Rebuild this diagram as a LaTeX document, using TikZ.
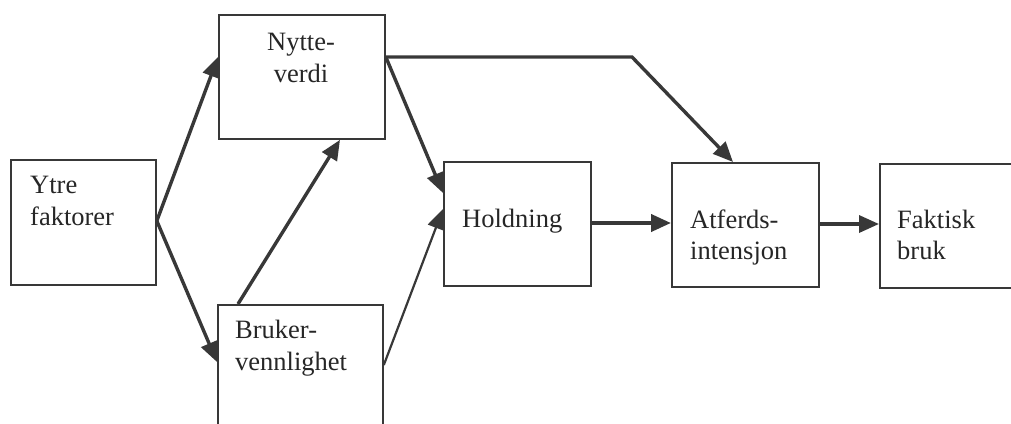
\documentclass[tikz,border=0pt]{standalone}
\usepackage{fontspec}
\setmainfont{Liberation Serif}
\usetikzlibrary{arrows.meta}
\definecolor{linec}{HTML}{383838}
\definecolor{textc}{HTML}{262626}
\begin{document}
\begin{tikzpicture}[x=1pt,y=-1pt,
  box/.style={draw=linec, line width=1.8pt, inner sep=0pt, anchor=north west},
  lbl/.style={inner sep=0pt, text=textc, font=\fontsize{26.5}{31}\selectfont},
  conn/.style={draw=linec, line width=3.4pt, -{Triangle[length=20pt,width=17pt]}},
  thin conn/.style={conn, line width=2.2pt}]
\useasboundingbox (0,0) rectangle (1011,423);
% boxes
\node[box, minimum width=145pt, minimum height=125pt] (ytre) at (10,159) {};
\node[box, minimum width=166pt, minimum height=124pt] (nytte) at (218,14) {};
\node[box, minimum width=165pt, minimum height=135pt] (bruker) at (217,304) {};
\node[box, minimum width=147pt, minimum height=124pt] (hold) at (443,161) {};
\node[box, minimum width=147pt, minimum height=124pt] (atf) at (671,162) {};
\node[box, minimum width=145pt, minimum height=124pt] (fakt) at (879,163) {};
% labels
\node[lbl, anchor=base west] (ytreA) at (30,193) {Ytre};
\node[lbl, anchor=base west] (ytreB) at (30,225) {faktorer};
\node[lbl, anchor=base] (nytA) at (301,50) {Nytte-};
\node[lbl, anchor=base] (nytB) at (301,82) {verdi};
\node[lbl, anchor=base west] (brA) at (235,338) {Bruker-};
\node[lbl, anchor=base west] (brB) at (235,370) {vennlighet};
\node[lbl, anchor=base west] (holA) at (462,227) {Holdning};
\node[lbl, anchor=base west] (atfA) at (690,228) {Atferds-};
\node[lbl, anchor=base west] (atfB) at (690,259) {intensjon};
\node[lbl, anchor=base west] (faA) at (897,228) {Faktisk};
\node[lbl, anchor=base west] (faB) at (897,259) {bruk};
% connector points
\coordinate (ytreOut) at ([yshift=1.5pt]ytre.east);
\coordinate (nytIn) at ([yshift=-43pt]nytte.north west);
\coordinate (nytOut) at ([yshift=-43pt]nytte.north east);
\coordinate (nytBot) at ([xshift=122pt]nytte.south west);
\coordinate (brIn) at ([yshift=-58pt]bruker.north west);
\coordinate (brTop) at ([xshift=21pt]bruker.north west);
\coordinate (brOut) at ([yshift=-61pt]bruker.north east);
\coordinate (holIn1) at ([yshift=-32pt]hold.north west);
\coordinate (holIn2) at ([yshift=-48pt]hold.north west);
\coordinate (holOut) at ([yshift=-62pt]hold.north east);
\coordinate (atfIn) at ([yshift=-61pt]atf.north west);
\coordinate (atfTop) at ([xshift=62pt]atf.north west);
\coordinate (atfOut) at ([yshift=-62pt]atf.north east);
\coordinate (faIn) at ([yshift=-61pt]fakt.north west);
\coordinate (bend) at (632,57);
% connectors
\draw[conn] (ytreOut) -- (nytIn);
\draw[conn] (ytreOut) -- (brIn);
\draw[conn] (brTop) -- (nytBot);
\draw[conn] (nytOut) -- (holIn1);
\draw[thin conn] (brOut) -- (holIn2);
\draw[conn] (nytOut) -- (bend) -- (atfTop);
\draw[conn, line width=4pt] (holOut) -- (atfIn);
\draw[conn] (atfOut) -- (faIn);
\end{tikzpicture}
\end{document}
